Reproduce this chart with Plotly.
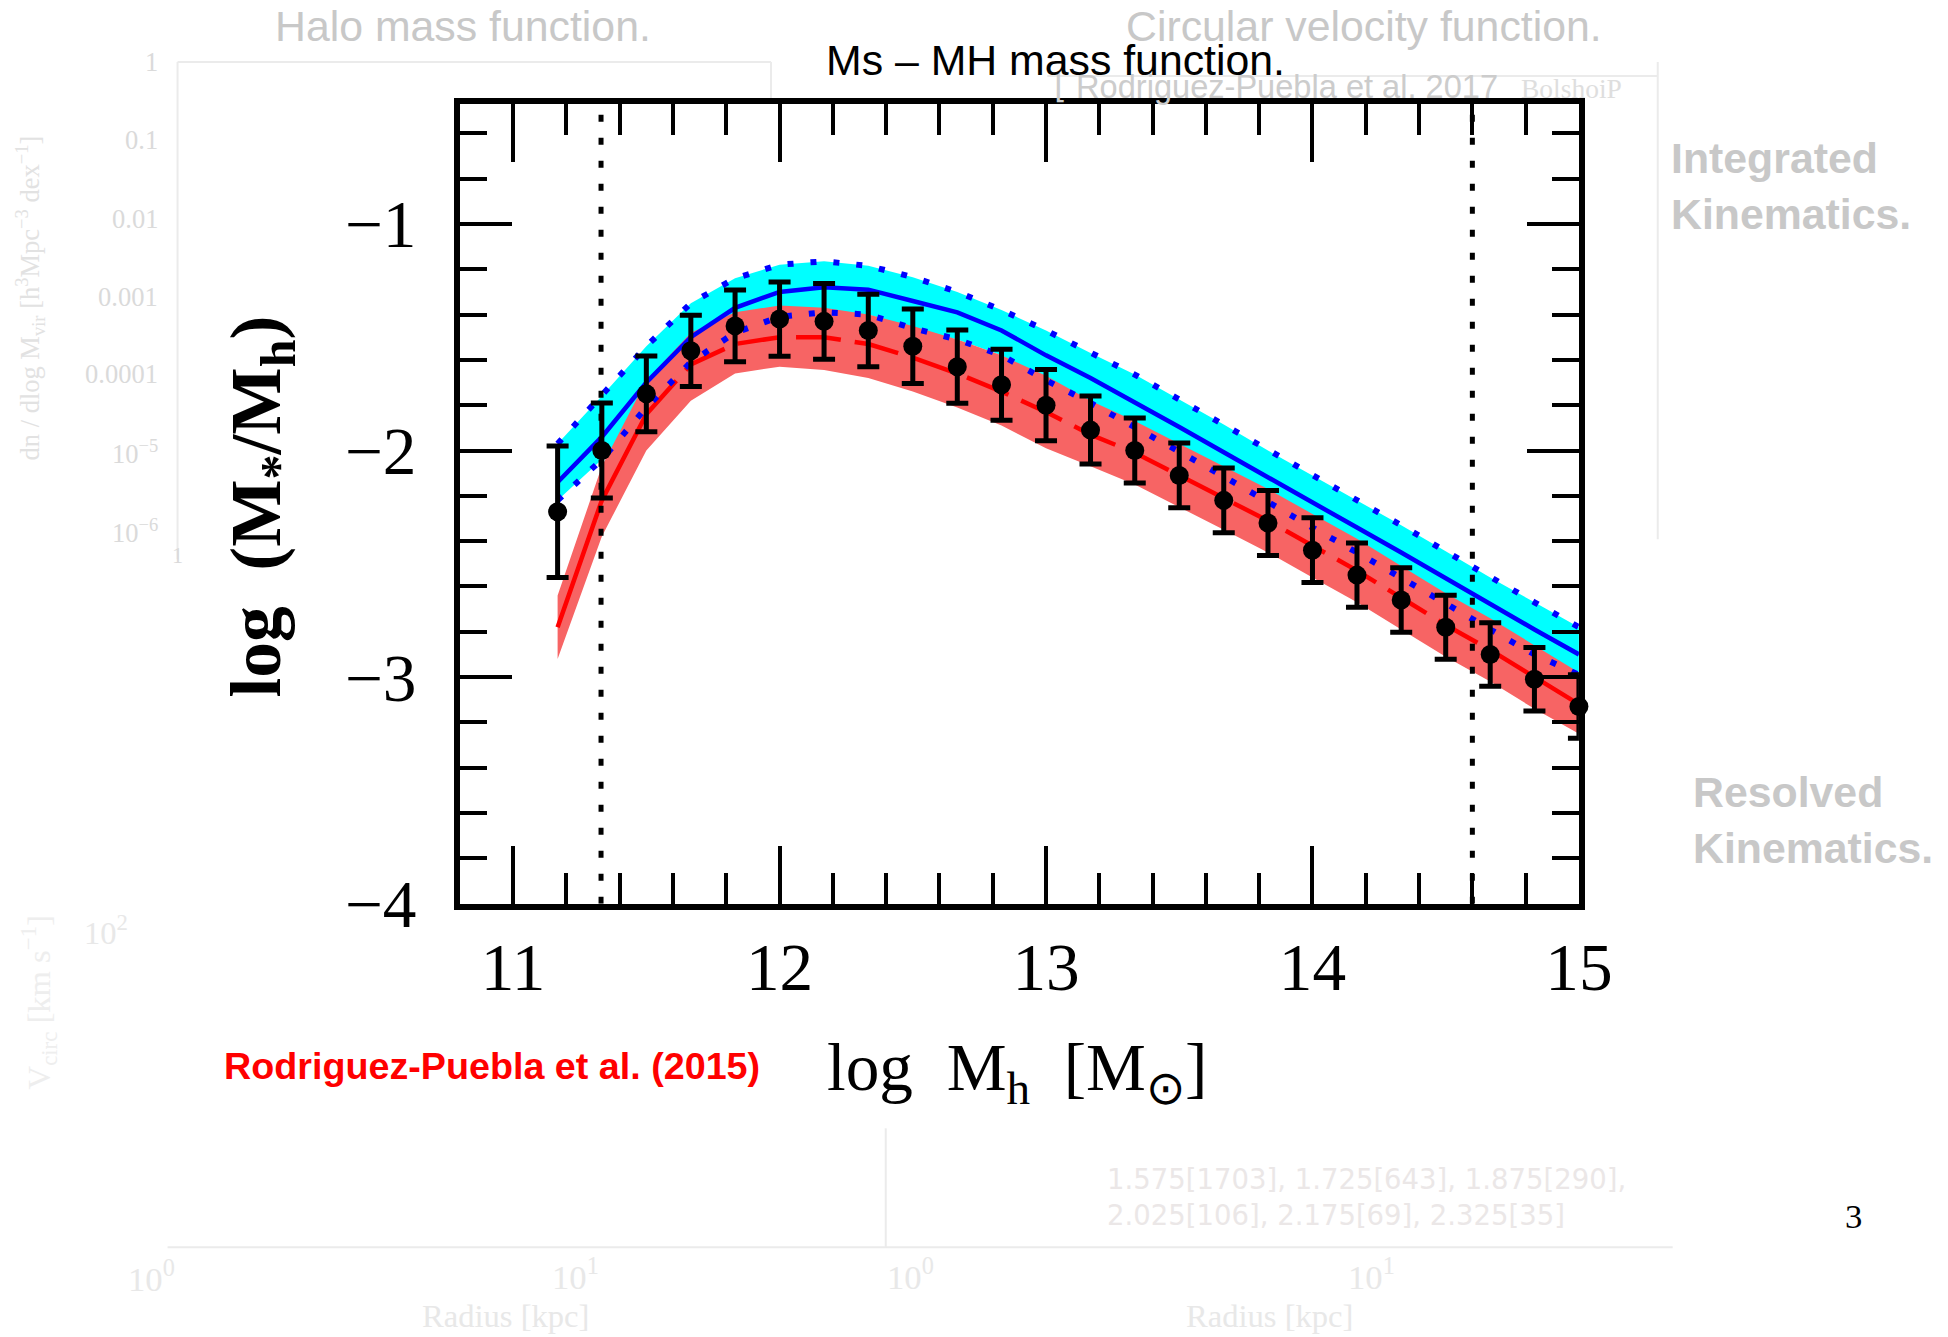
import plotly.graph_objects as go

# ---------------- data ----------------
log_mh = [11.167, 11.333, 11.5, 11.667, 11.833, 12.0, 12.167, 12.333, 12.5, 12.667,
          12.833, 13.0, 13.167, 13.333, 13.5, 13.667, 13.833, 14.0, 14.167, 14.333,
          14.5, 14.667, 14.833, 15.0]
ratio_data = [-2.27, -2.00, -1.75, -1.56, -1.45, -1.42, -1.43, -1.47, -1.54, -1.63,
              -1.71, -1.80, -1.91, -2.00, -2.11, -2.22, -2.32, -2.44, -2.55, -2.66,
              -2.78, -2.90, -3.01, -3.13]
ratio_err = [0.29, 0.21, 0.167, 0.157, 0.158, 0.164, 0.167, 0.16, 0.164, 0.162,
             0.157, 0.157, 0.15, 0.143, 0.143, 0.143, 0.143, 0.143, 0.142, 0.142,
             0.141, 0.14, 0.14, 0.14]

blue_mid = [-2.14, -1.94, -1.70, -1.50, -1.37, -1.30, -1.28, -1.29, -1.34, -1.39,
            -1.47, -1.58, -1.68, -1.785, -1.896, -2.008, -2.12, -2.23, -2.34, -2.45,
            -2.565, -2.68, -2.79, -2.90]
blue_hi = [-1.97, -1.76, -1.54, -1.35, -1.24, -1.18, -1.165, -1.185, -1.235, -1.30,
           -1.38, -1.47, -1.57, -1.665, -1.775, -1.885, -2.00, -2.11, -2.22, -2.33,
           -2.445, -2.56, -2.67, -2.78]
blue_lo = [-2.22, -2.04, -1.81, -1.61, -1.48, -1.41, -1.39, -1.40, -1.46, -1.51,
           -1.58, -1.69, -1.79, -1.895, -2.005, -2.115, -2.23, -2.34, -2.45, -2.56,
           -2.675, -2.79, -2.90, -2.99]

red_mid = [-2.78, -2.22, -1.84, -1.62, -1.53, -1.50, -1.50, -1.53, -1.59, -1.66,
           -1.74, -1.83, -1.93, -2.01, -2.11, -2.21, -2.31, -2.42, -2.53, -2.65,
           -2.77, -2.88, -3.00, -3.12]
red_hi = [-2.64, -2.07, -1.69, -1.48, -1.39, -1.36, -1.37, -1.40, -1.45, -1.51,
          -1.58, -1.67, -1.78, -1.87, -1.97, -2.07, -2.17, -2.28, -2.39, -2.51,
          -2.63, -2.74, -2.86, -2.98]
red_lo = [-2.92, -2.38, -2.00, -1.78, -1.66, -1.63, -1.645, -1.68, -1.74, -1.81,
          -1.89, -1.99, -2.07, -2.15, -2.25, -2.35, -2.45, -2.56, -2.67, -2.79,
          -2.91, -3.02, -3.14, -3.25]

completeness_limits = [11.33, 14.6]
x_range = [10.8, 15.0]
y_range = [-4.0, -0.47]
x_tick_vals = [11, 12, 13, 14, 15]
y_tick_vals = [-4, -3, -2, -1]

# target picture size, and layout size compensating the observed shrink of the page
W, H = 1948, 1337
LW, LH = 1977, 1374
FS = 1.02  # font compensation for that shrink


def px(x):
    return x / W


def py(y):
    return 1 - y / H


def fs(s):
    return round(s * FS, 1)


fig = go.Figure()

fig.add_trace(go.Scatter(x=log_mh + log_mh[::-1], y=blue_hi + blue_lo[::-1],
                         fill="toself", fillcolor="#00FFFF", mode="lines",
                         line=dict(width=0), hoverinfo="skip", showlegend=False))
fig.add_trace(go.Scatter(x=log_mh + log_mh[::-1], y=red_hi + red_lo[::-1],
                         fill="toself", fillcolor="#F76464", mode="lines",
                         line=dict(width=0), hoverinfo="skip", showlegend=False))
# red model: solid at the low-mass end, dashed beyond
fig.add_trace(go.Scatter(x=log_mh[:3], y=red_mid[:3], mode="lines",
                         line=dict(color="#FF0000", width=4.5), showlegend=False))
fig.add_trace(go.Scatter(x=log_mh[2:], y=red_mid[2:], mode="lines",
                         line=dict(color="#FF0000", width=4.5, dash="45px,14px"),
                         showlegend=False))
fig.add_trace(go.Scatter(x=log_mh, y=blue_mid, mode="lines",
                         line=dict(color="#0000FF", width=4.5), showlegend=False))
for edge in (blue_hi, blue_lo):
    fig.add_trace(go.Scatter(x=log_mh, y=edge, mode="lines",
                             line=dict(color="#0000FF", width=6, dash="6px,17px"),
                             showlegend=False))
for v in completeness_limits:
    fig.add_trace(go.Scatter(x=[v, v], y=y_range, mode="lines",
                             line=dict(color="black", width=5, dash="7px,16px"),
                             showlegend=False))
fig.add_trace(go.Scatter(x=log_mh, y=ratio_data, mode="markers",
                         marker=dict(color="black", size=19),
                         error_y=dict(type="data", array=ratio_err, color="black",
                                      thickness=5, width=11),
                         cliponaxis=False, showlegend=False))

axis_font = dict(family="Liberation Serif, Times New Roman, serif", size=fs(66), color="black")

fig.update_xaxes(range=x_range, domain=[px(461), px(1583)], showgrid=False, zeroline=False,
                 showline=True, linecolor="black", linewidth=6, mirror="ticks",
                 ticks="inside", ticklen=58, tickwidth=4, tickcolor="black",
                 tickvals=x_tick_vals, tickfont=axis_font, ticklabelstandoff=0,
                 minor=dict(ticks="inside", ticklen=31, tickwidth=4, tickcolor="black",
                            dtick=0.2, tick0=0, showgrid=False))
fig.update_yaxes(range=y_range, domain=[py(905), py(104)], showgrid=False, zeroline=False,
                 showline=True, linecolor="black", linewidth=6, mirror="ticks",
                 ticks="inside", ticklen=52, tickwidth=4, tickcolor="black",
                 tickvals=y_tick_vals, tickfont=axis_font, ticklabelstandoff=24,
                 minor=dict(ticks="inside", ticklen=27, tickwidth=4, tickcolor="black",
                            dtick=0.2, tick0=0, showgrid=False))

annotations = []


def txt(text, x, y, size, color, family="Liberation Sans, Arial, sans-serif",
        xanchor="center", yanchor="middle", angle=0, bold=False, align="center"):
    if bold:
        text = "<b>" + text + "</b>"
    annotations.append(dict(text=text, x=px(x), y=py(y), xref="paper", yref="paper",
                            showarrow=False, xanchor=xanchor, yanchor=yanchor, align=align,
                            textangle=angle,
                            font=dict(family=family, size=fs(size), color=color)))


serif = "Liberation Serif, Times New Roman, serif"
dsans = "DejaVu Sans, sans-serif"
faint = "#dadada"
vfaint = "#e8e8e8"

# faint background slide content
txt("Halo mass function.", 464, 26, 42, "#c8c8c8")
txt("Circular velocity function.", 1368, 26, 42, "#c8c8c8")
txt("Integrated<br>Kinematics.", 1673, 186, 42, "#c8c8c8", xanchor="left", bold=True, align="left")
txt("Resolved<br>Kinematics.", 1695, 821, 42, "#c8c8c8", xanchor="left", bold=True, align="left")
txt("⌊ Rodriguez-Puebla et al. 2017", 1055, 87, 32, "#cccccc", xanchor="left")
txt("BolshoiP", 1576, 89, 27, "#dedede", family=serif)
for lab, yy in [("1", 62), ("0.1", 140), ("0.01", 219), ("0.001", 297), ("0.0001", 375),
                ("10<sup>−5</sup>", 453), ("10<sup>−6</sup>", 532)]:
    txt(lab, 160, yy, 26, faint, family=serif, xanchor="right")
txt("1", 178, 556, 22, faint, family=serif)
txt("dn / dlog M<sub>vir</sub> [h<sup>3</sup>Mpc<sup>−3</sup> dex<sup>−1</sup>]",
    30, 298, 26, "#e2e2e2", family=serif, angle=-90)
txt("10<sup>2</sup>", 106, 932, 32, vfaint, family=serif)
txt("V<sub>circ</sub> [km s<sup>−1</sup>]", 40, 1004, 32, "#eeeeee", family=serif, angle=-90)
txt("10<sup>0</sup>", 152, 1278, 34, vfaint, family=serif)
txt("10<sup>1</sup>", 577, 1276, 34, vfaint, family=serif)
txt("10<sup>0</sup>", 913, 1276, 34, vfaint, family=serif)
txt("10<sup>1</sup>", 1375, 1276, 34, vfaint, family=serif)
txt("Radius [kpc]", 507, 1318, 32, vfaint, family=serif)
txt("Radius [kpc]", 1273, 1318, 32, vfaint, family=serif)
txt("1.575[1703], 1.725[643], 1.875[290],<br>2.025[106], 2.175[69], 2.325[35]",
    1108, 1199, 27, "#ebe7e7", family=dsans, xanchor="left", align="left")

# main slide texts
txt("Ms – MH mass function.", 1058, 60, 42, "black")
txt("Rodriguez-Puebla et al. (2015)", 493, 1068, 37, "#FF0000", bold=True)
txt("3", 1858, 1218, 34, "black", family=serif)

# axis titles
txt("log  (M<sub>*</sub>/M<sub>h</sub>)", 262, 507, 70, "black", family=serif, angle=-90, bold=True)
txt("log  M<sub>h</sub>  [M<sub>⊙</sub>]", 1020, 1074, 66, "black", family=serif)

shapes = []


def seg(x0, y0, x1, y1, color="#ebebeb", w=2):
    shapes.append(dict(type="line", xref="paper", yref="paper", x0=px(x0), y0=py(y0),
                       x1=px(x1), y1=py(y1), line=dict(color=color, width=w), layer="below"))


seg(178, 62, 773, 62)
seg(178, 62, 178, 560)
seg(773, 62, 773, 100)
seg(1050, 76, 1662, 76)
seg(1662, 62, 1662, 540)
seg(168, 1249, 1677, 1249)
seg(888, 1130, 888, 1249)

fig.update_layout(width=LW, height=LH, autosize=False,
                  margin=dict(l=0, r=0, t=0, b=0),
                  paper_bgcolor="white", plot_bgcolor="white",
                  showlegend=False, annotations=annotations, shapes=shapes)

fig.write_html("out.html")
